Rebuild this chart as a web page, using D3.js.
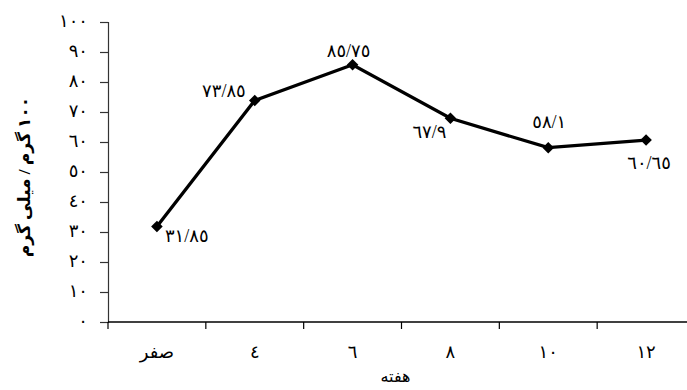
<!DOCTYPE html>
<html>
<head>
<meta charset="utf-8">
<script src="https://cdn.jsdelivr.net/npm/d3@7"></script>
<style>
  html, body { margin: 0; padding: 0; background: #fff; }
  svg { display: block; }
  text { font-family: "Liberation Serif", "DejaVu Sans", serif; fill: #000; }
</style>
</head>
<body>
<svg id="chart" width="687" height="390"></svg>
<script>
// ---- data ----
const categories = ["صفر", "٤", "٦", "٨", "١٠", "١٢"];
const values = [31.85, 73.85, 85.75, 67.9, 58.1, 60.65];
const valueLabels = ["٣١/٨٥", "٧٣/٨٥", "٨٥/٧٥", "٦٧/٩", "٥٨/١", "٦٠/٦٥"];
const yTicks = [0, 10, 20, 30, 40, 50, 60, 70, 80, 90, 100];
const xTitle = "هفته";
const yTitle = "١٠٠ گرم / میلی گرم";

// label placement relative to each point (dx, dy, anchor)
const labelPlacement = [
  { dx: 8, dy: 16, anchor: "start" },
  { dx: -9, dy: -3, anchor: "end" },
  { dx: -4, dy: -8, anchor: "middle" },
  { dx: -4, dy: 20, anchor: "end" },
  { dx: 1, dy: -20, anchor: "middle" },
  { dx: 3, dy: 29, anchor: "middle" }
];

const toArabicDigits = s => String(s).replace(/[0-9]/g, d => "٠١٢٣٤٥٦٧٨٩"[+d]);

const svg = d3.select("#chart");
const margin = { left: 108, right: -8, top: 22, bottom: 68 };
const W = 687, H = 390;
const FS = 18;

const x = d3.scaleBand().domain(categories).range([margin.left, W - margin.right]).padding(0);
const y = d3.scaleLinear().domain([0, 100]).range([H - margin.bottom, margin.top]);

// y axis
const yAxis = d3.axisLeft(y).tickValues(yTicks).tickSize(8).tickPadding(12)
  .tickFormat(d => toArabicDigits(d));
const gy = svg.append("g").attr("transform", `translate(${margin.left},0)`).call(yAxis);
gy.select(".domain").attr("stroke", "#333").attr("stroke-width", 1.2);
gy.selectAll(".tick line").attr("stroke", "#333").attr("stroke-width", 1.2);
gy.selectAll(".tick text").attr("font-size", FS).attr("dy", "0.25em")
  .attr("font-family", "'Liberation Serif','DejaVu Sans',serif");

// x axis: line, boundary ticks, centered labels
const y0 = y(0);
svg.append("line").attr("x1", margin.left).attr("x2", W).attr("y1", y0).attr("y2", y0)
  .attr("stroke", "#000").attr("stroke-width", 1.4);
const boundaries = categories.map(c => x(c)).concat([x(categories[categories.length - 1]) + x.bandwidth()]);
svg.append("g").selectAll("line").data(boundaries).join("line")
  .attr("x1", d => d).attr("x2", d => d).attr("y1", y0).attr("y2", y0 + 7)
  .attr("stroke", "#000").attr("stroke-width", 1.2);
svg.append("g").selectAll("text").data(categories).join("text")
  .attr("x", d => x(d) + x.bandwidth() / 2).attr("y", y0 + 36)
  .attr("text-anchor", "middle").attr("font-size", FS).text(d => d);

// line + markers
const cx = (d, i) => x(categories[i]) + x.bandwidth() / 2;
const line = d3.line().x((d, i) => cx(d, i)).y(d => y(d));
svg.append("path").datum(values).attr("d", line)
  .attr("fill", "none").attr("stroke", "#000").attr("stroke-width", 3.3).attr("stroke-linejoin", "miter");
const diamond = d3.symbol().type(d3.symbolDiamond2).size(85);
svg.append("g").selectAll("path").data(values).join("path")
  .attr("d", diamond)
  .attr("transform", (d, i) => `translate(${cx(d, i)},${y(d)})`)
  .attr("fill", "#000");

// value labels
svg.append("g").selectAll("text").data(values).join("text")
  .attr("x", (d, i) => cx(d, i) + labelPlacement[i].dx)
  .attr("y", (d, i) => y(d) + labelPlacement[i].dy)
  .attr("text-anchor", (d, i) => labelPlacement[i].anchor)
  .attr("font-size", FS)
  .text((d, i) => valueLabels[i]);

// axis titles
svg.append("text").attr("x", (margin.left + 695) / 2 - 6).attr("y", 382)
  .attr("text-anchor", "middle")
  .attr("font-size", 16).attr("direction", "rtl").text(xTitle);
svg.append("text")
  .attr("transform", `translate(30,177) rotate(-90)`)
  .attr("text-anchor", "middle")
  .attr("font-size", 17).attr("font-weight", "bold").attr("direction", "rtl").text(yTitle);
</script>
</body>
</html>
